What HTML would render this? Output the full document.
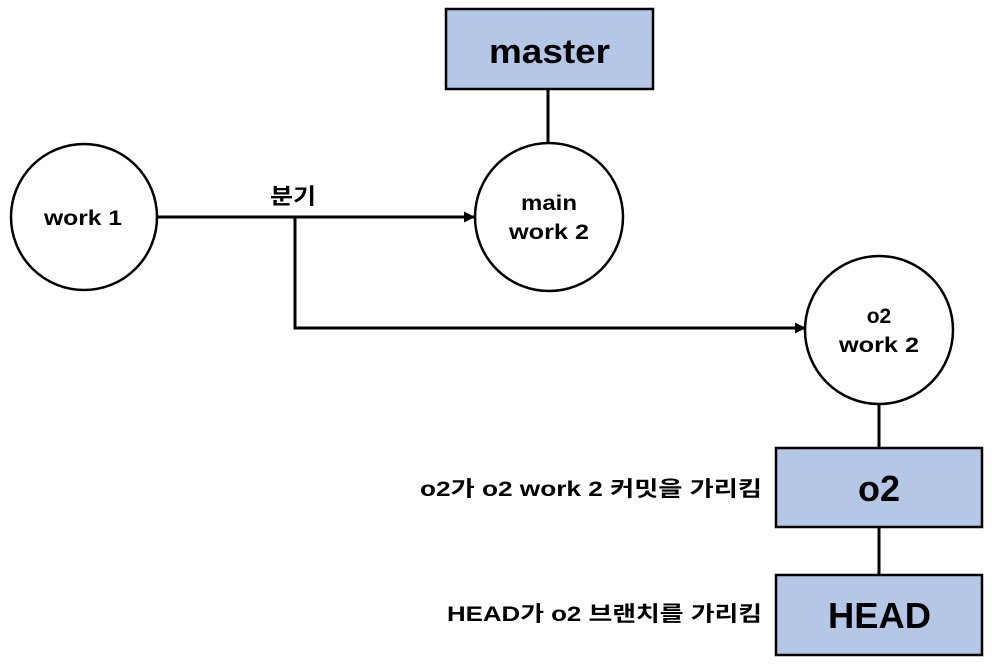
<!DOCTYPE html>
<html><head><meta charset="utf-8"><style>
html,body{margin:0;padding:0;background:#fff;}
svg text{font-family:"Liberation Sans","Noto Sans CJK KR",sans-serif;font-weight:bold;fill:#000;}
</style></head><body>
<svg width="992" height="666" viewBox="0 0 992 666" xmlns="http://www.w3.org/2000/svg">
<defs><marker id="a" markerWidth="11" markerHeight="11" refX="10" refY="5.5" orient="auto" markerUnits="userSpaceOnUse"><path d="M0,0 L11,5.5 L0,11 z" fill="#000"/></marker></defs>
<g stroke="#000" stroke-width="3" fill="none">
<line x1="548" y1="89" x2="548" y2="143"/>
<line x1="879" y1="404" x2="879" y2="448"/>
<line x1="879" y1="527" x2="879" y2="575"/>
<line x1="158" y1="217" x2="474" y2="217" marker-end="url(#a)"/>
<polyline points="295,217 295,328 805,328" marker-end="url(#a)"/>
</g>
<g stroke="#000" stroke-width="2.5" fill="#fff">
<circle cx="84" cy="217" r="73"/>
<circle cx="549" cy="217" r="74"/>
<circle cx="879" cy="330" r="74"/>
</g>
<g stroke="#000" stroke-width="2.5" fill="#b4c7e7">
<rect x="446" y="9" width="207" height="80"/>
<rect x="776" y="448" width="206" height="79"/>
<rect x="776" y="575" width="206" height="80"/>
</g>
<text x="489" y="63" font-size="34" textLength="121" lengthAdjust="spacingAndGlyphs">master</text>
<text x="879" y="501" font-size="36" text-anchor="middle">o2</text>
<text x="828" y="628" font-size="36" textLength="103" lengthAdjust="spacingAndGlyphs">HEAD</text>
<text x="44" y="225" font-size="21" textLength="78" lengthAdjust="spacingAndGlyphs">work 1</text>
<text x="521" y="210" font-size="21" textLength="56" lengthAdjust="spacingAndGlyphs">main</text>
<text x="509" y="239" font-size="21" textLength="80" lengthAdjust="spacingAndGlyphs">work 2</text>
<text x="879" y="323" font-size="21" text-anchor="middle">o2</text>
<text x="839" y="352" font-size="21" textLength="80" lengthAdjust="spacingAndGlyphs">work 2</text>
<text x="270" y="204" font-size="22" textLength="46" lengthAdjust="spacingAndGlyphs">분기</text>
<text x="420" y="496" font-size="21" textLength="342" lengthAdjust="spacingAndGlyphs">o2가 o2 work 2 커밋을 가리킴</text>
<text x="447" y="621" font-size="21" textLength="315" lengthAdjust="spacingAndGlyphs">HEAD가 o2 브랜치를 가리킴</text>
</svg>
</body></html>
